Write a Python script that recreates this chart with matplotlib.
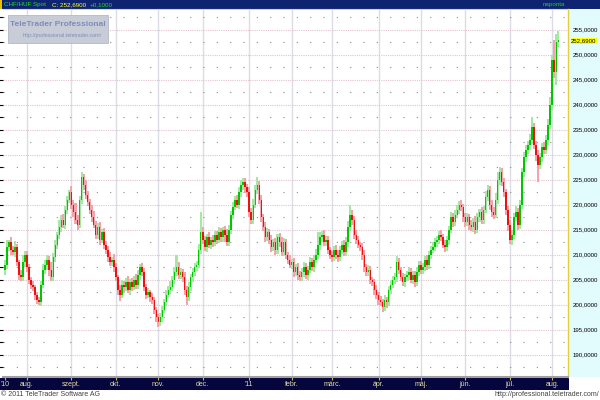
import numpy as np
import pandas as pd
import matplotlib
matplotlib.use('Agg')
import matplotlib.pyplot as plt
import matplotlib.transforms as mtransforms
from matplotlib.patches import Rectangle
from matplotlib.ticker import MultipleLocator, FuncFormatter

plt.rcParams['font.family'] = ['Liberation Sans', 'DejaVu Sans']

# napi adatok (CHF/HUF spot), zárások
dates = pd.bdate_range('2010-07-16', '2011-08-04')
first_open = 207.0
closes = [
    # 2010 jul
    208, 211.5, 212.5, 211, 210.5, 211.5, 208.5, 206, 205.5, 208.5, 210,
    # aug
    207.5, 205, 204, 203.5, 202, 201, 200.5, 204, 207, 208, 209, 207, 205.5, 209.5, 212, 214,
    215.5, 217, 216, 219, 221, 222.5,
    # szept
    220, 218.5, 217, 216, 221, 225.5, 224, 222, 220.5, 219, 217.5, 216, 214, 215.5, 213, 214.5,
    212, 211, 209.5, 208.5, 209, 207.5,
    # okt
    205.5, 203, 202, 204, 203.5, 204.5, 203, 204.5, 203.5, 205, 204, 206, 207.5, 206.5, 203.5,
    202, 202.5, 201.5, 201, 199, 197.5,
    # nov
    196.5, 197.5, 199, 200.5, 202, 203, 203.5, 205, 206.5, 207.5, 206, 206.5, 205.5, 203, 201.5,
    203.5, 205.5, 206.5, 207.5, 208, 211, 214.5,
    # dec
    213, 211.5, 213.5, 212, 213, 212.5, 214, 213, 214.5, 213.5, 215, 214, 212.5, 215, 218, 219.5,
    221, 220, 222.5, 224, 224.5, 223.5, 222.5,
    # 2011 jan
    218.5, 217, 220, 223, 224, 221, 217.5, 215.5, 213.5, 214.5, 213, 211.5, 212.5, 211, 213.5,
    212.5, 210.5, 212.5, 210, 209, 208,
    # febr
    208.5, 206.5, 207.5, 206, 205.5, 206.5, 207.5, 206, 207, 208.5, 207.5, 209, 210, 212, 213.5,
    214, 212.5, 213, 211, 210,
    # márc
    209.5, 211, 210, 209.5, 211, 212, 210.5, 212.5, 215.5, 218, 217, 214, 213, 212, 211.5, 210,
    207.5, 206.5, 207, 205, 204.5, 203, 202,
    # ápr
    201, 200.5, 199.5, 201, 200.5, 203, 204, 205, 205.5, 208.5, 207, 205.5, 204.5, 205.5, 206,
    206.5, 205, 206, 204.5, 206.5, 208,
    # máj
    207, 207.5, 209, 208, 210, 211, 211.5, 212.5, 213, 214, 213.5, 212, 211.5, 213, 215, 217.5,
    216.5, 218, 219, 220, 219.5, 217.5,
    # jún
    216.5, 217.5, 216, 215.5, 216.5, 215, 217.5, 218.5, 217, 219, 221.5, 223, 220, 218.5, 218,
    221, 225, 226.5, 224.5, 222.5, 219, 216,
    # júl
    213, 214, 217.5, 218.5, 216, 220, 226.5, 229.5, 231, 232, 233, 235.5, 232, 230, 228, 229.5,
    231.5, 231, 233, 236, 240,
    # aug
    249, 246.5, 252.59, 252.69,
]
wick_up = [
    1.0, 1.5, 0.5, 1.0, 0.8, 1.2, 0.6, 0.5, 1.0, 1.5, 0.7,
    0.8, 0.6, 0.5, 0.7, 0.4, 0.6, 0.5, 0.8, 1.2, 0.9, 1.0, 0.7, 1.5, 0.8, 1.0, 0.6, 1.4, 0.9, 1.2, 0.8, 0.7, 0.5,
    1.2, 1.0, 1.8, 0.9, 0.8, 1.0, 0.7, 1.0, 0.8, 0.6, 0.9, 1.2, 0.7, 0.8, 1.0, 0.6, 0.9, 0.7, 0.8, 1.0, 0.6, 1.2,
    0.8, 0.5, 0.9, 1.0, 0.7, 0.8, 1.2, 0.6, 0.9, 0.7, 1.2, 1.0, 0.6, 0.8, 0.9, 0.7, 0.8, 0.5, 0.9, 0.6, 0.5,
    0.7, 0.9, 0.8, 0.6, 1.0, 0.7, 1.2, 0.8, 1.0, 2.5, 1.1, 0.9, 0.7, 1.0, 0.8, 1.1, 0.6, 0.9, 0.8, 0.7, 1.2, 4.0,
    1.0, 0.8, 0.7, 1.0, 0.6, 0.9, 0.8, 0.7, 1.0, 0.9, 0.6, 0.8, 1.2, 0.9, 0.7, 1.0, 0.8, 0.9, 1.0, 1.0, 0.8, 0.9, 0.6,
    1.0, 0.8, 1.2, 1.0, 1.5, 0.8, 0.9, 0.7, 1.0, 0.8, 0.6, 0.9, 0.7, 0.8, 0.6, 0.9, 1.0, 0.8, 0.7, 0.6, 0.9,
    0.7, 0.8, 0.6, 0.9, 0.7, 0.8, 1.0, 0.9, 0.7, 1.0, 0.8, 0.9, 1.2, 2.5, 1.0, 0.8, 0.9, 0.7, 0.8, 0.6,
    0.8, 0.7, 1.0, 0.9, 0.8, 0.7, 0.9, 1.0, 1.2, 2.0, 1.0, 0.8, 0.9, 0.7, 0.6, 0.8, 0.9, 0.7, 1.0, 0.8, 0.6, 0.7, 0.9,
    0.6, 0.8, 0.7, 0.9, 0.6, 0.8, 1.0, 0.7, 0.9, 1.2, 0.8, 0.6, 0.9, 0.7, 0.8, 1.0, 0.9, 0.7, 0.8, 1.0, 0.8,
    0.7, 0.9, 0.8, 1.0, 0.7, 0.8, 1.0, 0.9, 0.7, 0.8, 1.0, 0.6, 0.9, 0.8, 0.7, 1.0, 0.8, 0.9, 1.0, 0.8, 0.9, 0.7,
    0.8, 0.9, 0.7, 1.0, 0.8, 1.2, 0.9, 0.7, 1.0, 0.8, 1.2, 1.0, 0.8, 0.9, 1.0, 1.4, 1.5, 1.0, 0.8, 0.9, 0.7, 0.8,
    0.9, 1.0, 0.8, 1.2, 0.9, 1.0, 0.8, 1.0, 0.9, 0.8, 1.2, 2.0, 0.9, 0.8, 1.0, 0.9, 0.8, 1.0, 0.9, 1.2, 1.5,
    1.0, 4.0, 1.5, 2.0,
]
wick_down = [
    1.0, 0.8, 0.7, 1.0, 0.6, 0.9, 0.8, 1.0, 0.7, 0.8, 0.9,
    1.0, 0.8, 0.9, 0.7, 1.0, 0.8, 0.6, 0.8, 0.7, 0.9, 1.0, 1.2, 0.8, 0.7, 1.0, 0.9, 0.8, 1.0, 0.7, 0.9, 0.8, 0.7,
    0.9, 1.0, 0.8, 1.0, 0.7, 0.8, 1.0, 0.9, 0.7, 0.8, 1.0, 0.6, 0.9, 0.8, 1.0, 0.7, 0.9, 0.8, 1.0, 0.7, 0.8, 0.9,
    0.8, 1.0, 1.2, 0.7, 0.9, 0.8, 0.7, 1.0, 0.8, 0.6, 0.9, 0.8, 1.0, 0.7, 0.8, 0.9, 0.7, 1.0, 0.8, 0.9, 1.0,
    1.0, 0.8, 0.9, 0.7, 0.8, 0.6, 0.9, 0.7, 0.8, 0.7, 0.9, 0.8, 1.0, 1.0, 1.5, 0.8, 0.7, 0.9, 0.8, 0.7, 0.6, 0.8,
    0.9, 0.8, 1.0, 0.7, 0.8, 0.9, 0.7, 0.8, 0.6, 0.9, 1.0, 1.5, 0.8, 0.7, 0.9, 0.8, 0.6, 0.7, 0.8, 0.9, 1.0, 1.2, 0.9,
    1.0, 0.9, 0.8, 0.7, 0.8, 0.9, 1.0, 0.8, 0.9, 0.7, 0.8, 0.9, 0.7, 1.0, 0.8, 0.9, 0.7, 0.8, 0.9, 0.8, 0.7,
    0.8, 0.9, 0.7, 1.0, 0.8, 0.7, 0.9, 0.8, 1.0, 0.7, 0.8, 0.9, 0.7, 0.8, 1.0, 0.9, 0.7, 0.8, 0.9, 0.8,
    0.9, 0.7, 0.8, 1.0, 0.8, 0.9, 0.7, 0.8, 0.9, 0.7, 1.0, 0.8, 0.9, 0.7, 0.8, 1.0, 0.9, 0.8, 0.7, 0.9, 0.8, 1.0, 0.9,
    1.0, 0.8, 0.9, 0.7, 1.2, 0.8, 0.9, 0.7, 0.8, 1.0, 0.9, 0.8, 0.7, 0.9, 0.8, 1.0, 0.7, 0.8, 0.9, 0.8, 0.7,
    0.8, 0.9, 0.7, 1.0, 0.8, 0.9, 0.7, 0.8, 1.0, 0.9, 0.8, 0.7, 0.9, 0.8, 1.0, 0.7, 0.9, 0.8, 0.7, 0.9, 0.8, 1.0,
    0.9, 0.8, 1.0, 0.7, 0.9, 0.8, 0.7, 1.0, 0.8, 0.9, 0.7, 0.8, 1.0, 0.9, 0.8, 0.7, 0.9, 1.0, 0.8, 0.9, 1.0, 1.2,
    0.8, 1.0, 0.9, 0.8, 1.0, 0.9, 0.8, 1.0, 0.9, 0.8, 1.0, 0.9, 0.8, 1.2, 3.5, 0.9, 1.0, 0.8, 0.9, 1.0, 0.8,
    1.0, 1.2, 2.5, 1.0,
]
month_labels = ["'10", 'aug.', 'szept.', 'okt.', 'nov.', 'dec.', "'11", 'febr.',
                'márc.', 'ápr.', 'máj.', 'jún.', 'júl.', 'aug.']

closes = np.array(closes, dtype=float)
opens = np.r_[first_open, closes[:-1]]
highs = np.maximum(opens, closes) + np.array(wick_up)
lows = np.minimum(opens, closes) - np.array(wick_down)
x = np.arange(len(dates))
rising = closes >= opens

# hónapok első kereskedési napja
pos = pd.Series(x, index=dates)
month_first = pos.groupby([dates.year, dates.month]).first().values

W, H = 600, 400
fig = plt.figure(figsize=(6, 4), dpi=100)


def fx(px):
    return px / W


def fy(py):
    return 1 - py / H


# háttér sávok
fig.add_artist(Rectangle((0, fy(8.5)), 1, fy(0) - fy(8.5), transform=fig.transFigure,
                         facecolor='#0f2470', edgecolor='none', zorder=-5))
fig.add_artist(Rectangle((0, fy(8.5)), fx(2), fy(0) - fy(8.5), transform=fig.transFigure,
                         facecolor='#e8c000', edgecolor='none', zorder=-4))
fig.add_artist(Rectangle((fx(569), fy(377)), fx(600) - fx(569), fy(9) - fy(377),
                         transform=fig.transFigure, facecolor='#e2fbfd', edgecolor='none', zorder=-5))
fig.add_artist(Rectangle((0, fy(389.5)), fx(569), fy(377.5) - fy(389.5),
                         transform=fig.transFigure, facecolor='#06063f', edgecolor='none', zorder=-5))

ax = fig.add_axes([fx(3), fy(377), fx(568) - fx(3), fy(9) - fy(377)])
ax.set_xlim((3 - 4.8) / 2.02, (568 - 4.8) / 2.02)
ax.set_ylim(185.5, 259.1)

ax.yaxis.set_major_locator(MultipleLocator(5))
ax.yaxis.set_minor_locator(MultipleLocator(2.5))
ax.grid(which='major', axis='y', color='#e4c4cc', linestyle=(0, (1, 1)), linewidth=0.8)
ax.grid(which='minor', axis='y', color='#8c8c8c', linestyle=(0, (1, 11)), linewidth=0.8)
ax.vlines(month_first[1:], 185.5, 259.1, color='#dcdce4', linewidth=1.0, zorder=0.5)

# gyertyák
ax.bar(x, highs - lows, bottom=lows, width=1.0, linewidth=0, zorder=2,
       color=np.where(rising, '#a4e8a4', '#f5a2aa'))
ax.bar(x, np.maximum(np.abs(closes - opens), 0.3), bottom=np.minimum(opens, closes),
       width=0.75, linewidth=0, zorder=3, color=np.where(rising, '#00c800', '#f01010'))

ax.yaxis.set_major_formatter(FuncFormatter(lambda v, p: f'{v:.4f}'.replace('.', ',')))
ax.tick_params(axis='y', which='both', left=True, right=False, labelleft=False,
               labelright=True, direction='out', length=3, width=0.8, color='black',
               labelsize=4.4, pad=0.2, labelcolor='black')

ax.set_xticks(month_first)
ax.set_xticklabels(month_labels)
ax.tick_params(axis='x', direction='out', length=2, width=0.8, color='#c8b860',
               labelsize=5, labelcolor='#e6dca0', pad=1.0)

ax.spines['left'].set_visible(False)
ax.spines['top'].set_color('#d0d0d8')
ax.spines['top'].set_linewidth(0.8)
ax.spines['bottom'].set_color('#a0a0a0')
ax.spines['bottom'].set_linewidth(1.5)
ax.spines['right'].set_color('#e0d040')
ax.spines['right'].set_linestyle((0, (1, 1)))
ax.spines['right'].set_linewidth(1.0)

# utolsó ár kiemelve
last = closes[-1]
blend = mtransforms.blended_transform_factory(fig.transFigure, ax.transData)
ax.text(fx(571.2), last, f'{last:.4f}'.replace('.', ','), transform=blend, fontsize=4.4,
        va='center', ha='left', color='black', clip_on=False,
        bbox=dict(facecolor='#ffff00', edgecolor='none', pad=0.5))

# fejléc
change = closes[-1] - closes[-2]
fig.text(fx(4), fy(4.3), 'CHF/HUF Spot', color='#22dd22', fontsize=4.5, va='center')
fig.text(fx(52), fy(4.3), 'C: ' + f'{last:.4f}'.replace('.', ','), color='#ffff33',
         fontsize=4.5, va='center')
fig.text(fx(90), fy(4.3), f'{change:+.4f}'.replace('.', ','), color='#22dd22',
         fontsize=4.5, va='center')
fig.text(fx(543), fy(4.3), 'naponta', color='#22cc22', fontsize=4.5, va='center')

# vízjel
fig.add_artist(Rectangle((fx(8), fy(43)), fx(100), fy(15) - fy(43), transform=fig.transFigure,
                         facecolor='#c8ccd6', edgecolor='#b4b8c4', linewidth=0.6, zorder=4))
fig.text(fx(58), fy(25), 'TeleTrader Professional', color='#7d8cbc', fontsize=6.0,
         ha='center', va='center', fontweight='bold', zorder=5)
fig.text(fx(62), fy(35), 'http://professional.teletrader.com/', color='#7d8cbc',
         fontsize=3.8, ha='center', va='center', zorder=5)

# lábléc
fig.text(fx(1), fy(394.5), '\u00a9 2011 TeleTrader Software AG', color='#404040',
         fontsize=5, va='center')
fig.text(fx(599), fy(394.5), 'http://professional.teletrader.com/', color='#404040',
         fontsize=5, va='center', ha='right')

fig.savefig('out.png', dpi=100)
